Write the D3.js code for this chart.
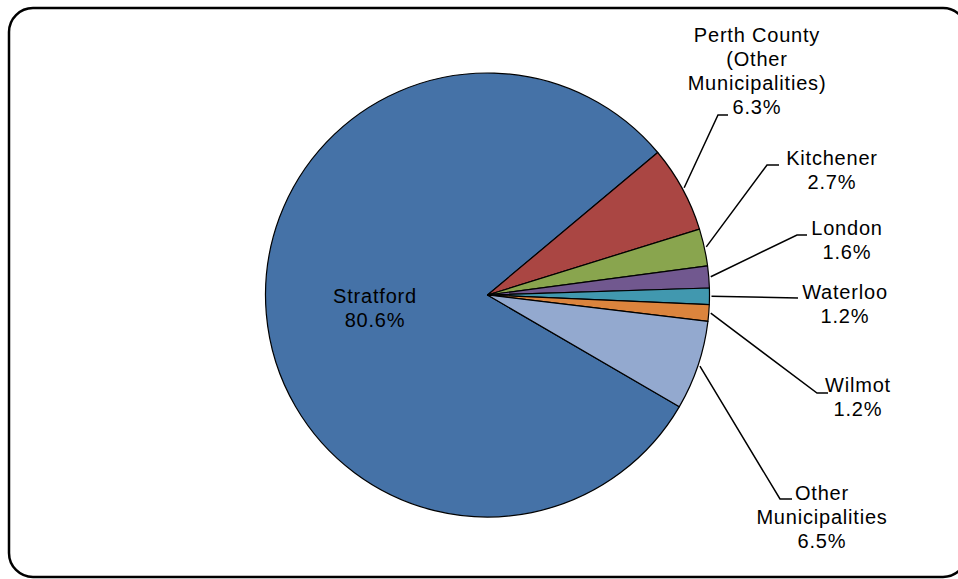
<!DOCTYPE html>
<html>
<head>
<meta charset="utf-8">
<script src="https://cdn.jsdelivr.net/npm/d3@7"></script>
<style>
  body { margin: 0; background: #fff; }
  svg text { font-family: "Liberation Sans", Arial, sans-serif; font-size: 20px; fill: #000; letter-spacing: 0.8px; }
</style>
</head>
<body>
<div id="chart"></div>
<script>
// dati
const names = ["Stratford", "Perth County (Other Municipalities)", "Kitchener", "London", "Waterloo", "Wilmot", "Other Municipalities"];
const values = [80.6, 6.3, 2.7, 1.6, 1.2, 1.2, 6.5];
const labelLines = [
    ["Stratford"],
    ["Perth County", "(Other", "Municipalities)"],
    ["Kitchener"],
    ["London"],
    ["Waterloo"],
    ["Wilmot"],
    ["Other", "Municipalities"]
];
const colors = ["#4572A7", "#AA4643", "#89A54E", "#71588F", "#4198AF", "#DB843D", "#93A9CF"];

// posizione delle etichette (layout, non dati)
const labelPos = [
    {x: 375, y: 296, inside: true},
    {x: 757, y: 35, elbow: [718, 115], end: 728},
    {x: 832, y: 158, elbow: [767, 165], end: 779},
    {x: 847, y: 228, elbow: [797, 235], end: 807},
    {x: 845, y: 292, elbow: [798, 298], end: 798},
    {x: 858, y: 385, elbow: [817, 393], end: 828},
    {x: 822, y: 493, elbow: [780, 499], end: 792}
];

const width = 958, height = 579;
const cx = 487.5, cy = 295, radius = 222;
const lineH = 24;

const svg = d3.select("#chart").append("svg")
    .attr("width", width)
    .attr("height", height);

// bordo arrotondato (il lato destro esce dall'immagine)
svg.append("rect")
    .attr("x", 9).attr("y", 8)
    .attr("width", 958).attr("height", 569)
    .attr("rx", 24).attr("ry", 24)
    .attr("fill", "#fff")
    .attr("stroke", "#000")
    .attr("stroke-width", 2.5);

const data = names.map((n, i) => ({name: n, value: values[i], lines: labelLines[i], color: colors[i], pos: labelPos[i]}));

// Stratford parte a ~120 gradi (ore 4)
const startDeg = 120.2;
const pie = d3.pie()
    .sort(null)
    .value(d => d.value)
    .startAngle(startDeg * Math.PI / 180)
    .endAngle((startDeg + 360) * Math.PI / 180);

const arc = d3.arc().innerRadius(0).outerRadius(radius);

const g = svg.append("g").attr("transform", "translate(" + cx + "," + cy + ")");

const arcs = pie(data);

g.selectAll("path.slice")
    .data(arcs)
    .enter().append("path")
    .attr("class", "slice")
    .attr("d", arc)
    .attr("fill", d => d.data.color)
    .attr("stroke", "#000")
    .attr("stroke-width", 1.2)
    .attr("stroke-linejoin", "round");

// linee guida
const leaders = svg.append("g");
arcs.forEach(d => {
    const p = d.data.pos;
    if (p.inside) return;
    const mid = (d.startAngle + d.endAngle) / 2;
    const sx = cx + (radius + 2) * Math.sin(mid);
    const sy = cy - (radius + 2) * Math.cos(mid);
    leaders.append("path")
        .attr("d", d3.line()([[sx, sy], p.elbow, [p.end, p.elbow[1]]]))
        .attr("fill", "none")
        .attr("stroke", "#000")
        .attr("stroke-width", 1.5);
});

// etichette
const fmt = d3.format(".1f");
arcs.forEach(d => {
    const p = d.data.pos;
    const lines = d.data.lines.concat([fmt(d.data.value) + "%"]);
    const t = svg.append("text")
        .attr("text-anchor", "middle");
    lines.forEach((l, i) => {
        t.append("tspan")
            .attr("x", p.x)
            .attr("y", p.y + i * lineH)
            .attr("dy", "0.35em")
            .text(l);
    });
});
</script>
</body>
</html>
